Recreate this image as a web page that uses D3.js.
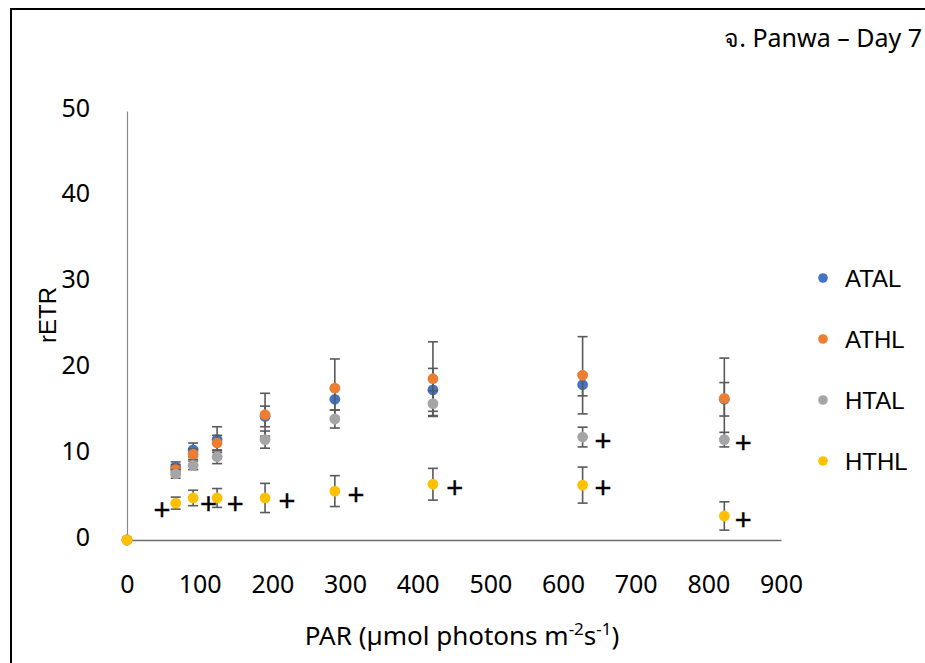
<!DOCTYPE html>
<html>
<head>
<meta charset="utf-8">
<script src="https://cdn.jsdelivr.net/npm/d3@7/dist/d3.min.js"></script>
<style>
  html, body { margin: 0; padding: 0; background: #fff; }
  svg { display: block; }
</style>
</head>
<body>
<svg id="chart" width="925" height="663"></svg>
<script>
// Rapid light curve, rETR vs PAR, four treatments (mean ± SD)
const par = [0, 67, 91, 124, 190, 286, 421, 627, 822];

const atal   = [0, 8.5, 10.5, 11.7, 14.4, 16.4, 17.5, 18.1, 16.4];
const atalSd = [0, 0.6, 0.8, 1.5, 1.2, 1.25, 2.5, 1.3, 1.95];
const athl   = [0, 8.2, 10.0, 11.3, 14.6, 17.7, 18.8, 19.2, 16.5];
const athlSd = [0, 0.6, 0.6, 0.9, 2.5, 3.4, 4.3, 4.5, 4.7];
const htal   = [0, 7.7, 8.7, 9.7, 11.7, 14.1, 15.9, 12.0, 11.7];
const htalSd = [0, 0.5, 0.5, 0.8, 1.0, 1.05, 1.5, 1.15, 0.85];
const hthl   = [0, 4.3, 4.9, 4.9, 4.9, 5.7, 6.5, 6.4, 2.8];
const hthlSd = [0, 0.7, 0.9, 1.1, 1.7, 1.8, 1.85, 2.1, 1.65];

const seriesNames = ["ATAL", "ATHL", "HTAL", "HTHL"];
const seriesColors = ["#4472C4", "#ED7D31", "#A5A5A5", "#FFC000"];

// significance marks ("+") placed beside points
const plusPar  = [48, 112, 149, 220, 315, 451, 655, 655, 848, 848];
const plusRetr = [3.4, 4.2, 4.1, 4.5, 5.2, 6.0, 11.5, 6.0, 11.3, 2.3];

const xTicks = [0, 100, 200, 300, 400, 500, 600, 700, 800, 900];
const yTicks = [0, 10, 20, 30, 40, 50];

const titleText = "จ. Panwa – Day 7";

const series = [
  { name: seriesNames[0], color: seriesColors[0], mean: atal, sd: atalSd },
  { name: seriesNames[1], color: seriesColors[1], mean: athl, sd: athlSd },
  { name: seriesNames[2], color: seriesColors[2], mean: htal, sd: htalSd },
  { name: seriesNames[3], color: seriesColors[3], mean: hthl, sd: hthlSd }
];

const svg = d3.select("#chart");
const tickFont = "'Noto Sans', 'Open Sans', sans-serif";
const arial = "'Liberation Sans', Arial, sans-serif";

// outer frame (top and left edges)
svg.append("path")
  .attr("d", "M11,663 V9 H925")
  .attr("fill", "none")
  .attr("stroke", "#000")
  .attr("stroke-width", 2);

const x = d3.scaleLinear().domain([0, 900]).range([127, 781]);
const y = d3.scaleLinear().domain([0, 50]).range([540, 111]);

// axes
const xAxis = svg.append("g")
  .attr("transform", `translate(0,${y(0)})`)
  .call(d3.axisBottom(x).tickValues(xTicks).tickSize(0).tickSizeOuter(0).tickPadding(35));
xAxis.select(".domain").attr("stroke", "#6e6e6e").attr("stroke-width", 1.5);
xAxis.selectAll("text")
  .attr("font-family", tickFont).attr("font-size", 25).attr("fill", "#000");

const yAxis = svg.append("g")
  .attr("transform", `translate(${x(0)},0)`)
  .call(d3.axisLeft(y).tickValues(yTicks).tickSize(0).tickSizeOuter(0).tickPadding(37));
yAxis.select(".domain").attr("stroke", "#8a8a8a").attr("stroke-width", 1.2);
yAxis.selectAll("text")
  .attr("font-family", tickFont).attr("font-size", 25).attr("fill", "#000")
  .attr("dy", "0.2em");

// series: error bars then markers
const capHalf = 5;
series.forEach(s => {
  const g = svg.append("g");
  const rows = par.map((p, i) => ({ p, m: s.mean[i], sd: s.sd[i] })).filter(d => d.p > 0);
  const eb = g.selectAll("g.eb").data(rows).join("g").attr("class", "eb")
    .attr("stroke", "#595959").attr("stroke-width", 1.6);
  eb.append("line")
    .attr("x1", d => x(d.p)).attr("x2", d => x(d.p))
    .attr("y1", d => y(d.m + d.sd)).attr("y2", d => y(d.m - d.sd));
  eb.append("line")
    .attr("x1", d => x(d.p) - capHalf).attr("x2", d => x(d.p) + capHalf)
    .attr("y1", d => y(d.m + d.sd)).attr("y2", d => y(d.m + d.sd));
  eb.append("line")
    .attr("x1", d => x(d.p) - capHalf).attr("x2", d => x(d.p) + capHalf)
    .attr("y1", d => y(d.m - d.sd)).attr("y2", d => y(d.m - d.sd));
  g.selectAll("circle").data(par.map((p, i) => ({ p, m: s.mean[i] }))).join("circle")
    .attr("cx", d => x(d.p)).attr("cy", d => y(d.m)).attr("r", 5.4)
    .attr("fill", s.color);
});

// "+" marks
svg.append("g").selectAll("text")
  .data(plusPar.map((p, i) => ({ p, r: plusRetr[i] })))
  .join("text")
  .attr("x", d => x(d.p)).attr("y", d => y(d.r))
  .attr("text-anchor", "middle")
  .attr("dy", "0.33em")
  .attr("font-family", arial).attr("font-size", 29).attr("fill", "#000")
  .attr("stroke", "#000").attr("stroke-width", 0.4)
  .text("+");

// legend
const legend = svg.append("g").selectAll("g").data(series).join("g")
  .attr("transform", (d, i) => `translate(823,${278 + i * 61})`);
legend.append("circle").attr("r", 4.8).attr("fill", d => d.color);
legend.append("text")
  .attr("x", 22).attr("dy", "0.36em")
  .attr("font-family", arial).attr("font-size", 24).attr("fill", "#000")
  .text(d => d.name);

// axis titles
svg.append("text")
  .attr("transform", "translate(56,315) rotate(-90)")
  .attr("text-anchor", "middle")
  .attr("font-family", arial).attr("font-size", 24).attr("fill", "#000")
  .text("rETR");

const xt = svg.append("text")
  .attr("x", 462).attr("y", 645)
  .attr("text-anchor", "middle")
  .attr("font-family", tickFont).attr("font-size", 26).attr("fill", "#000");
xt.append("tspan").text("PAR (µmol photons m");
xt.append("tspan").attr("font-size", 17).attr("dy", -10).text("-2");
xt.append("tspan").attr("dy", 10).text("s");
xt.append("tspan").attr("font-size", 17).attr("dy", -10).text("-1");
xt.append("tspan").attr("dy", 10).text(")");

// panel title
svg.append("text")
  .attr("x", 922).attr("y", 47)
  .attr("text-anchor", "end")
  .attr("font-family", tickFont).attr("font-size", 25).attr("fill", "#000")
  .text(titleText);
</script>
</body>
</html>
